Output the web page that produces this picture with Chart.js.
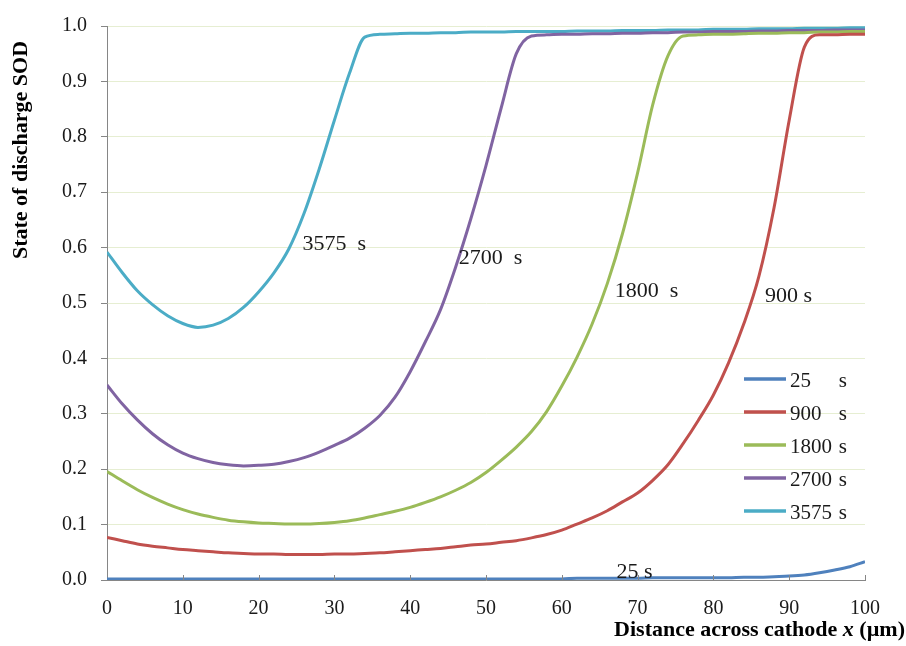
<!DOCTYPE html>
<html>
<head>
<meta charset="utf-8">
<script src="https://cdn.jsdelivr.net/npm/chart.js@4.4.1/dist/chart.umd.min.js"></script>
<style>
  html, body { margin: 0; padding: 0; background: #fff; }
  #wrap { width: 906px; height: 646px; }
</style>
</head>
<body>
<div id="wrap"><canvas id="sodChart" width="906" height="646"></canvas></div>
<script>
// x positions across the cathode (um)
var xs = [0, 2, 4, 6, 8, 10, 12, 14, 16, 18, 20, 22, 24, 26, 28, 30, 32, 34, 36, 38, 40,
          42, 44, 46, 48, 50, 52, 54, 56, 58, 60, 62, 64, 66, 68, 70, 72, 74, 76, 78, 80,
          82, 84, 86, 88, 90, 92, 94, 96, 98, 100];

var sod25 = [0.002, 0.002, 0.002, 0.002, 0.002, 0.002, 0.002, 0.002, 0.002, 0.002, 0.002,
             0.002, 0.002, 0.002, 0.002, 0.002, 0.002, 0.002, 0.002, 0.002, 0.002,
             0.002, 0.002, 0.002, 0.002, 0.002, 0.002, 0.002, 0.002, 0.002, 0.002,
             0.003, 0.003, 0.003, 0.003, 0.003, 0.004, 0.004, 0.004, 0.004, 0.004,
             0.004, 0.005, 0.005, 0.006, 0.007, 0.009, 0.013, 0.018, 0.024, 0.033];

var sod900 = [0.077, 0.071, 0.065, 0.061, 0.058, 0.055, 0.053, 0.051, 0.049, 0.048, 0.047,
              0.047, 0.046, 0.046, 0.046, 0.047, 0.047, 0.048, 0.049, 0.051, 0.053,
              0.055, 0.057, 0.060, 0.063, 0.065, 0.068, 0.071, 0.076, 0.082, 0.090,
              0.101, 0.112, 0.125, 0.141, 0.157, 0.180, 0.208, 0.246, 0.288, 0.334,
              0.392, 0.462, 0.548, 0.672, 0.830, 0.962, 0.984, 0.984, 0.985, 0.985];

var sod1800 = [0.196, 0.179, 0.163, 0.149, 0.137, 0.127, 0.119, 0.113, 0.108, 0.105, 0.103,
               0.102, 0.101, 0.101, 0.102, 0.104, 0.107, 0.112, 0.118, 0.124, 0.131,
               0.140, 0.150, 0.162, 0.176, 0.194, 0.216, 0.240, 0.268, 0.304, 0.350,
               0.402, 0.462, 0.535, 0.625, 0.735, 0.858, 0.946, 0.982, 0.984, 0.985,
               0.985, 0.986, 0.987, 0.987, 0.988, 0.988, 0.989, 0.989, 0.990, 0.990];

var sod2700 = [0.352, 0.318, 0.289, 0.264, 0.244, 0.229, 0.219, 0.212, 0.208, 0.206, 0.207,
               0.209, 0.214, 0.221, 0.231, 0.243, 0.256, 0.274, 0.297, 0.330, 0.376,
               0.430, 0.488, 0.565, 0.652, 0.748, 0.852, 0.950, 0.982, 0.984, 0.985,
               0.985, 0.986, 0.986, 0.987, 0.987, 0.988, 0.988, 0.989, 0.989, 0.990,
               0.990, 0.990, 0.991, 0.991, 0.992, 0.992, 0.992, 0.993, 0.993, 0.993];

var sod3575 = [0.592, 0.555, 0.522, 0.497, 0.477, 0.463, 0.456, 0.460, 0.472, 0.492, 0.520,
               0.554, 0.598, 0.662, 0.742, 0.830, 0.915, 0.980, 0.985, 0.986, 0.987,
               0.987, 0.988, 0.988, 0.989, 0.989, 0.989, 0.990, 0.990, 0.990, 0.990,
               0.991, 0.991, 0.991, 0.992, 0.992, 0.992, 0.993, 0.993, 0.993, 0.994,
               0.994, 0.994, 0.995, 0.995, 0.995, 0.996, 0.996, 0.996, 0.997, 0.997];

var seriesNames = ['25', '900', '1800', '2700', '3575'];
var seriesData = [sod25, sod900, sod1800, sod2700, sod3575];
var seriesColors = ['#4F81BD', '#C0504D', '#9BBB59', '#8064A2', '#4BACC6'];

// labels written next to the curves: [text, x value, y value]
var curveLabels = [
    ['3575  s', 25.8, 0.595],
    ['2700  s', 46.4, 0.570],
    ['1800  s', 67.0, 0.511],
    ['900 s', 86.8, 0.501],
    ['25 s', 67.2, 0.003]
];

var serif = '"Liberation Serif", "Times New Roman", serif';

function toPoints(ys) {
    return xs.map(function (x, i) { return { x: x, y: ys[i] }; });
}

var datasets = [];
for (var i = 0; i < seriesNames.length; i++) {
    datasets.push({
        label: seriesNames[i] + ' s',
        data: toPoints(seriesData[i]),
        borderColor: seriesColors[i],
        backgroundColor: seriesColors[i],
        borderWidth: 3,
        pointRadius: 0,
        fill: false,
        cubicInterpolationMode: 'monotone'
    });
}

var extras = {
    id: 'extras',
    afterDraw: function (chart) {
        var ctx = chart.ctx;
        var xS = chart.scales.x, yS = chart.scales.y;
        var area = chart.chartArea;
        ctx.save();

        // inward tick marks on the x axis
        ctx.strokeStyle = '#868686';
        ctx.lineWidth = 1;
        for (var v = 10; v <= 100; v += 10) {
            var px = Math.round(xS.getPixelForValue(v)) + 0.5;
            ctx.beginPath();
            ctx.moveTo(px, area.bottom);
            ctx.lineTo(px, area.bottom - 5);
            ctx.stroke();
        }

        // curve labels
        ctx.fillStyle = '#1a1a1a';
        ctx.font = '22px ' + serif;
        ctx.textAlign = 'left';
        ctx.textBaseline = 'alphabetic';
        curveLabels.forEach(function (c) {
            ctx.fillText(c[0], xS.getPixelForValue(c[1]), yS.getPixelForValue(c[2]));
        });

        // legend
        var lx = 744, ly = 379;
        ctx.font = '21px ' + serif;
        chart.data.datasets.forEach(function (ds, k) {
            var yy = ly + k * 33;
            ctx.strokeStyle = ds.borderColor;
            ctx.lineWidth = 3.5;
            ctx.beginPath();
            ctx.moveTo(lx, yy);
            ctx.lineTo(lx + 42, yy);
            ctx.stroke();
            ctx.fillStyle = '#1a1a1a';
            ctx.textAlign = 'left';
            ctx.fillText(seriesNames[k], lx + 46, yy + 8);
            ctx.textAlign = 'right';
            ctx.fillText('s', 847, yy + 8);
        });

        // y axis title
        ctx.save();
        ctx.translate(27, 150);
        ctx.rotate(-Math.PI / 2);
        ctx.textAlign = 'center';
        ctx.font = 'bold 22px ' + serif;
        ctx.fillStyle = '#000';
        ctx.fillText('State of discharge SOD', 0, 0);
        ctx.restore();

        // x axis title with italic x
        var p1 = 'Distance across cathode ', p2 = 'x', p3 = ' (\u00b5m)';
        var fB = 'bold 22px ' + serif, fI = 'italic bold 22px ' + serif;
        ctx.font = fB;
        var w1 = ctx.measureText(p1).width, w3 = ctx.measureText(p3).width;
        ctx.font = fI;
        var w2 = ctx.measureText(p2).width;
        var tx = 905 - (w1 + w2 + w3), ty = 636;
        ctx.textAlign = 'left';
        ctx.fillStyle = '#000';
        ctx.font = fB; ctx.fillText(p1, tx, ty);
        ctx.font = fI; ctx.fillText(p2, tx + w1, ty);
        ctx.font = fB; ctx.fillText(p3, tx + w1 + w2, ty);

        ctx.restore();
    }
};

new Chart(document.getElementById('sodChart'), {
    type: 'line',
    data: { datasets: datasets },
    options: {
        responsive: false,
        animation: false,
        layout: { padding: { left: 0, right: 41, top: 22, bottom: 0 } },
        plugins: {
            legend: { display: false },
            tooltip: { enabled: false }
        },
        scales: {
            x: {
                type: 'linear',
                min: 0,
                max: 100,
                afterFit: function (s) { s.height = 66; },
                grid: { display: true, drawOnChartArea: false, drawTicks: false },
                border: { display: true, color: '#868686', width: 1 },
                ticks: {
                    stepSize: 10,
                    padding: 17,
                    color: '#1a1a1a',
                    font: { family: serif, size: 20 }
                }
            },
            y: {
                min: 0,
                max: 1,
                afterFit: function (s) { s.width = 107; },
                grid: { color: '#e6eed2', tickColor: '#868686', tickLength: 6, drawTicks: true },
                border: { display: true, color: '#868686', width: 1 },
                ticks: {
                    stepSize: 0.1,
                    padding: 14,
                    color: '#1a1a1a',
                    font: { family: serif, size: 20 },
                    callback: function (v) { return v.toFixed(1); }
                }
            }
        }
    },
    plugins: [extras]
});
</script>
</body>
</html>
